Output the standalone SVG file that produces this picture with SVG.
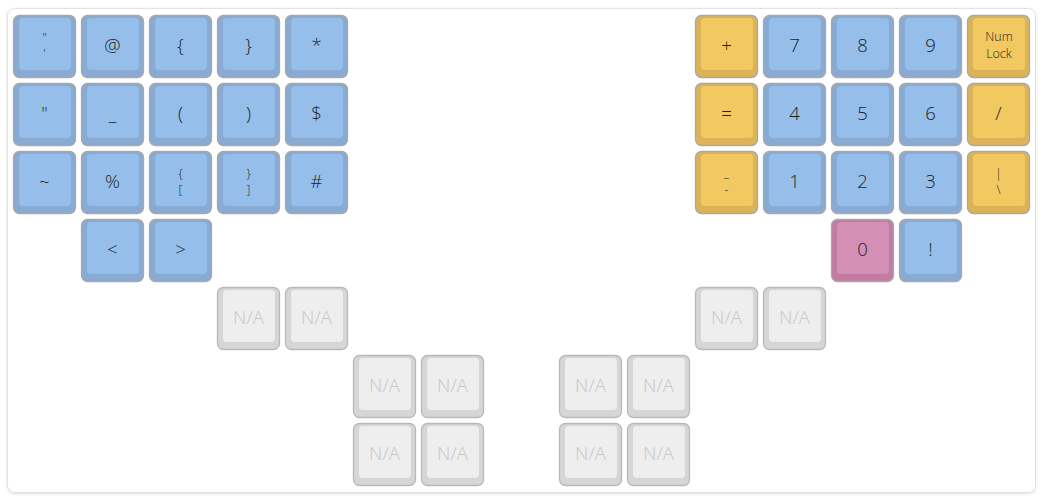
<svg xmlns="http://www.w3.org/2000/svg" width="1043" height="500" viewBox="0 0 1043 500">
<defs>
<filter id="sh" x="-5%" y="-5%" width="110%" height="110%">
<feDropShadow dx="0" dy="1" stdDeviation="1.5" flood-color="#000" flood-opacity="0.12"/>
</filter>
<style>
.o{stroke:#a8a8a8;stroke-width:1.3}
.b .o{fill:#88aad3}.b .i{fill:#95beea}
.y .o{fill:#dcb457}.y .i{fill:#f2c860}
.p .o{fill:#c27ba1}.p .i{fill:#d48fb4}
.g .o{fill:#d6d6d6;stroke:#b9b9b9}.g .i{fill:#eeeeee}
text{font-family:"Open Sans","Noto Sans","Liberation Sans",sans-serif;font-weight:350;text-anchor:middle;fill:#1e1e1e}
.l{font-size:18.5px}
.s{font-size:12px}
.n{font-size:12.5px}
.g text{fill:#c6c6c6}
</style>
</defs>
<rect x="0" y="0" width="1043" height="500" fill="#ffffff"/>
<rect x="7.5" y="8.5" width="1028" height="484" rx="7" fill="#ffffff" stroke="#e2e2e2" stroke-width="1" filter="url(#sh)"/>

<g id="keys">
<!-- Row 0 -->
<g id="k-quote" class="b" transform="translate(13,15)"><rect class="o" x="0.5" y="0.5" width="62" height="62" rx="6"/><rect class="i" x="6" y="3" width="52" height="52" rx="4"/><text class="s" x="31.5" y="27">"</text><text class="s" x="31.5" y="42.5">'</text></g>
<g id="k-at" class="b" transform="translate(81,15)"><rect class="o" x="0.5" y="0.5" width="62" height="62" rx="6"/><rect class="i" x="6" y="3" width="52" height="52" rx="4"/><text class="l" x="31.5" y="37">@</text></g>
<g id="k-lbrace" class="b" transform="translate(149,15)"><rect class="o" x="0.5" y="0.5" width="62" height="62" rx="6"/><rect class="i" x="6" y="3" width="52" height="52" rx="4"/><text class="l" x="31.5" y="37">{</text></g>
<g id="k-rbrace" class="b" transform="translate(217,15)"><rect class="o" x="0.5" y="0.5" width="62" height="62" rx="6"/><rect class="i" x="6" y="3" width="52" height="52" rx="4"/><text class="l" x="31.5" y="37">}</text></g>
<g id="k-star" class="b" transform="translate(285,15)"><rect class="o" x="0.5" y="0.5" width="62" height="62" rx="6"/><rect class="i" x="6" y="3" width="52" height="52" rx="4"/><text class="l" x="31.5" y="37">*</text></g>
<g id="k-plus" class="y" transform="translate(695,15)"><rect class="o" x="0.5" y="0.5" width="62" height="62" rx="6"/><rect class="i" x="6" y="3" width="52" height="52" rx="4"/><text class="l" x="31.5" y="37">+</text></g>
<g id="k-7" class="b" transform="translate(763,15)"><rect class="o" x="0.5" y="0.5" width="62" height="62" rx="6"/><rect class="i" x="6" y="3" width="52" height="52" rx="4"/><text class="l" x="31.5" y="37">7</text></g>
<g id="k-8" class="b" transform="translate(831,15)"><rect class="o" x="0.5" y="0.5" width="62" height="62" rx="6"/><rect class="i" x="6" y="3" width="52" height="52" rx="4"/><text class="l" x="31.5" y="37">8</text></g>
<g id="k-9" class="b" transform="translate(899,15)"><rect class="o" x="0.5" y="0.5" width="62" height="62" rx="6"/><rect class="i" x="6" y="3" width="52" height="52" rx="4"/><text class="l" x="31.5" y="37">9</text></g>
<g id="k-numlock" class="y" transform="translate(967,15)"><rect class="o" x="0.5" y="0.5" width="62" height="62" rx="6"/><rect class="i" x="6" y="3" width="52" height="52" rx="4"/><text class="n" x="32" y="25.5">Num</text><text class="n" x="32" y="42.5">Lock</text></g>

<!-- Row 1 -->
<g id="k-dquote" class="b" transform="translate(13,83)"><rect class="o" x="0.5" y="0.5" width="62" height="62" rx="6"/><rect class="i" x="6" y="3" width="52" height="52" rx="4"/><text class="l" x="31.5" y="37">"</text></g>
<g id="k-under" class="b" transform="translate(81,83)"><rect class="o" x="0.5" y="0.5" width="62" height="62" rx="6"/><rect class="i" x="6" y="3" width="52" height="52" rx="4"/><text class="l" x="31.5" y="37">_</text></g>
<g id="k-lparen" class="b" transform="translate(149,83)"><rect class="o" x="0.5" y="0.5" width="62" height="62" rx="6"/><rect class="i" x="6" y="3" width="52" height="52" rx="4"/><text class="l" x="31.5" y="37">(</text></g>
<g id="k-rparen" class="b" transform="translate(217,83)"><rect class="o" x="0.5" y="0.5" width="62" height="62" rx="6"/><rect class="i" x="6" y="3" width="52" height="52" rx="4"/><text class="l" x="31.5" y="37">)</text></g>
<g id="k-dollar" class="b" transform="translate(285,83)"><rect class="o" x="0.5" y="0.5" width="62" height="62" rx="6"/><rect class="i" x="6" y="3" width="52" height="52" rx="4"/><text class="l" x="31.5" y="37">$</text></g>
<g id="k-equal" class="y" transform="translate(695,83)"><rect class="o" x="0.5" y="0.5" width="62" height="62" rx="6"/><rect class="i" x="6" y="3" width="52" height="52" rx="4"/><text class="l" x="31.5" y="37">=</text></g>
<g id="k-4" class="b" transform="translate(763,83)"><rect class="o" x="0.5" y="0.5" width="62" height="62" rx="6"/><rect class="i" x="6" y="3" width="52" height="52" rx="4"/><text class="l" x="31.5" y="37">4</text></g>
<g id="k-5" class="b" transform="translate(831,83)"><rect class="o" x="0.5" y="0.5" width="62" height="62" rx="6"/><rect class="i" x="6" y="3" width="52" height="52" rx="4"/><text class="l" x="31.5" y="37">5</text></g>
<g id="k-6" class="b" transform="translate(899,83)"><rect class="o" x="0.5" y="0.5" width="62" height="62" rx="6"/><rect class="i" x="6" y="3" width="52" height="52" rx="4"/><text class="l" x="31.5" y="37">6</text></g>
<g id="k-slash" class="y" transform="translate(967,83)"><rect class="o" x="0.5" y="0.5" width="62" height="62" rx="6"/><rect class="i" x="6" y="3" width="52" height="52" rx="4"/><text class="l" x="31.5" y="37">/</text></g>

<!-- Row 2 -->
<g id="k-tilde" class="b" transform="translate(13,151)"><rect class="o" x="0.5" y="0.5" width="62" height="62" rx="6"/><rect class="i" x="6" y="3" width="52" height="52" rx="4"/><text class="l" x="31.5" y="37">~</text></g>
<g id="k-percent" class="b" transform="translate(81,151)"><rect class="o" x="0.5" y="0.5" width="62" height="62" rx="6"/><rect class="i" x="6" y="3" width="52" height="52" rx="4"/><text class="l" x="31.5" y="37">%</text></g>
<g id="k-lbracket" class="b" transform="translate(149,151)"><rect class="o" x="0.5" y="0.5" width="62" height="62" rx="6"/><rect class="i" x="6" y="3" width="52" height="52" rx="4"/><text class="s" x="31.5" y="27">{</text><text class="s" x="31.5" y="42.5">[</text></g>
<g id="k-rbracket" class="b" transform="translate(217,151)"><rect class="o" x="0.5" y="0.5" width="62" height="62" rx="6"/><rect class="i" x="6" y="3" width="52" height="52" rx="4"/><text class="s" x="31.5" y="27">}</text><text class="s" x="31.5" y="42.5">]</text></g>
<g id="k-hash" class="b" transform="translate(285,151)"><rect class="o" x="0.5" y="0.5" width="62" height="62" rx="6"/><rect class="i" x="6" y="3" width="52" height="52" rx="4"/><text class="l" x="31.5" y="37">#</text></g>
<g id="k-minus" class="y" transform="translate(695,151)"><rect class="o" x="0.5" y="0.5" width="62" height="62" rx="6"/><rect class="i" x="6" y="3" width="52" height="52" rx="4"/><text class="s" x="31.5" y="26">_</text><text class="s" x="31.5" y="42.5">-</text></g>
<g id="k-1" class="b" transform="translate(763,151)"><rect class="o" x="0.5" y="0.5" width="62" height="62" rx="6"/><rect class="i" x="6" y="3" width="52" height="52" rx="4"/><text class="l" x="31.5" y="37">1</text></g>
<g id="k-2" class="b" transform="translate(831,151)"><rect class="o" x="0.5" y="0.5" width="62" height="62" rx="6"/><rect class="i" x="6" y="3" width="52" height="52" rx="4"/><text class="l" x="31.5" y="37">2</text></g>
<g id="k-3" class="b" transform="translate(899,151)"><rect class="o" x="0.5" y="0.5" width="62" height="62" rx="6"/><rect class="i" x="6" y="3" width="52" height="52" rx="4"/><text class="l" x="31.5" y="37">3</text></g>
<g id="k-pipe" class="y" transform="translate(967,151)"><rect class="o" x="0.5" y="0.5" width="62" height="62" rx="6"/><rect class="i" x="6" y="3" width="52" height="52" rx="4"/><text class="s" x="31.5" y="27">|</text><text class="s" x="31.5" y="42.5">\</text></g>

<!-- Row 3 -->
<g id="k-lt" class="b" transform="translate(81,219)"><rect class="o" x="0.5" y="0.5" width="62" height="62" rx="6"/><rect class="i" x="6" y="3" width="52" height="52" rx="4"/><text class="l" x="31.5" y="37">&lt;</text></g>
<g id="k-gt" class="b" transform="translate(149,219)"><rect class="o" x="0.5" y="0.5" width="62" height="62" rx="6"/><rect class="i" x="6" y="3" width="52" height="52" rx="4"/><text class="l" x="31.5" y="37">&gt;</text></g>
<g id="k-0" class="p" transform="translate(831,219)"><rect class="o" x="0.5" y="0.5" width="62" height="62" rx="6"/><rect class="i" x="6" y="3" width="52" height="52" rx="4"/><text class="l" x="31.5" y="37">0</text></g>
<g id="k-excl" class="b" transform="translate(899,219)"><rect class="o" x="0.5" y="0.5" width="62" height="62" rx="6"/><rect class="i" x="6" y="3" width="52" height="52" rx="4"/><text class="l" x="31.5" y="37">!</text></g>

<!-- Thumb rows -->
<g id="k-na1" class="g" transform="translate(217,287)"><rect class="o" x="0.5" y="0.5" width="62" height="62" rx="6"/><rect class="i" x="6" y="3" width="52" height="52" rx="4"/><text class="l" x="31.5" y="37">N/A</text></g>
<g id="k-na2" class="g" transform="translate(285,287)"><rect class="o" x="0.5" y="0.5" width="62" height="62" rx="6"/><rect class="i" x="6" y="3" width="52" height="52" rx="4"/><text class="l" x="31.5" y="37">N/A</text></g>
<g id="k-na3" class="g" transform="translate(695,287)"><rect class="o" x="0.5" y="0.5" width="62" height="62" rx="6"/><rect class="i" x="6" y="3" width="52" height="52" rx="4"/><text class="l" x="31.5" y="37">N/A</text></g>
<g id="k-na4" class="g" transform="translate(763,287)"><rect class="o" x="0.5" y="0.5" width="62" height="62" rx="6"/><rect class="i" x="6" y="3" width="52" height="52" rx="4"/><text class="l" x="31.5" y="37">N/A</text></g>
<g id="k-na5" class="g" transform="translate(353,355)"><rect class="o" x="0.5" y="0.5" width="62" height="62" rx="6"/><rect class="i" x="6" y="3" width="52" height="52" rx="4"/><text class="l" x="31.5" y="37">N/A</text></g>
<g id="k-na6" class="g" transform="translate(421,355)"><rect class="o" x="0.5" y="0.5" width="62" height="62" rx="6"/><rect class="i" x="6" y="3" width="52" height="52" rx="4"/><text class="l" x="31.5" y="37">N/A</text></g>
<g id="k-na7" class="g" transform="translate(559,355)"><rect class="o" x="0.5" y="0.5" width="62" height="62" rx="6"/><rect class="i" x="6" y="3" width="52" height="52" rx="4"/><text class="l" x="31.5" y="37">N/A</text></g>
<g id="k-na8" class="g" transform="translate(627,355)"><rect class="o" x="0.5" y="0.5" width="62" height="62" rx="6"/><rect class="i" x="6" y="3" width="52" height="52" rx="4"/><text class="l" x="31.5" y="37">N/A</text></g>
<g id="k-na9" class="g" transform="translate(353,423)"><rect class="o" x="0.5" y="0.5" width="62" height="62" rx="6"/><rect class="i" x="6" y="3" width="52" height="52" rx="4"/><text class="l" x="31.5" y="37">N/A</text></g>
<g id="k-na10" class="g" transform="translate(421,423)"><rect class="o" x="0.5" y="0.5" width="62" height="62" rx="6"/><rect class="i" x="6" y="3" width="52" height="52" rx="4"/><text class="l" x="31.5" y="37">N/A</text></g>
<g id="k-na11" class="g" transform="translate(559,423)"><rect class="o" x="0.5" y="0.5" width="62" height="62" rx="6"/><rect class="i" x="6" y="3" width="52" height="52" rx="4"/><text class="l" x="31.5" y="37">N/A</text></g>
<g id="k-na12" class="g" transform="translate(627,423)"><rect class="o" x="0.5" y="0.5" width="62" height="62" rx="6"/><rect class="i" x="6" y="3" width="52" height="52" rx="4"/><text class="l" x="31.5" y="37">N/A</text></g>
</g>
<g id="connectors"/>
</svg>
